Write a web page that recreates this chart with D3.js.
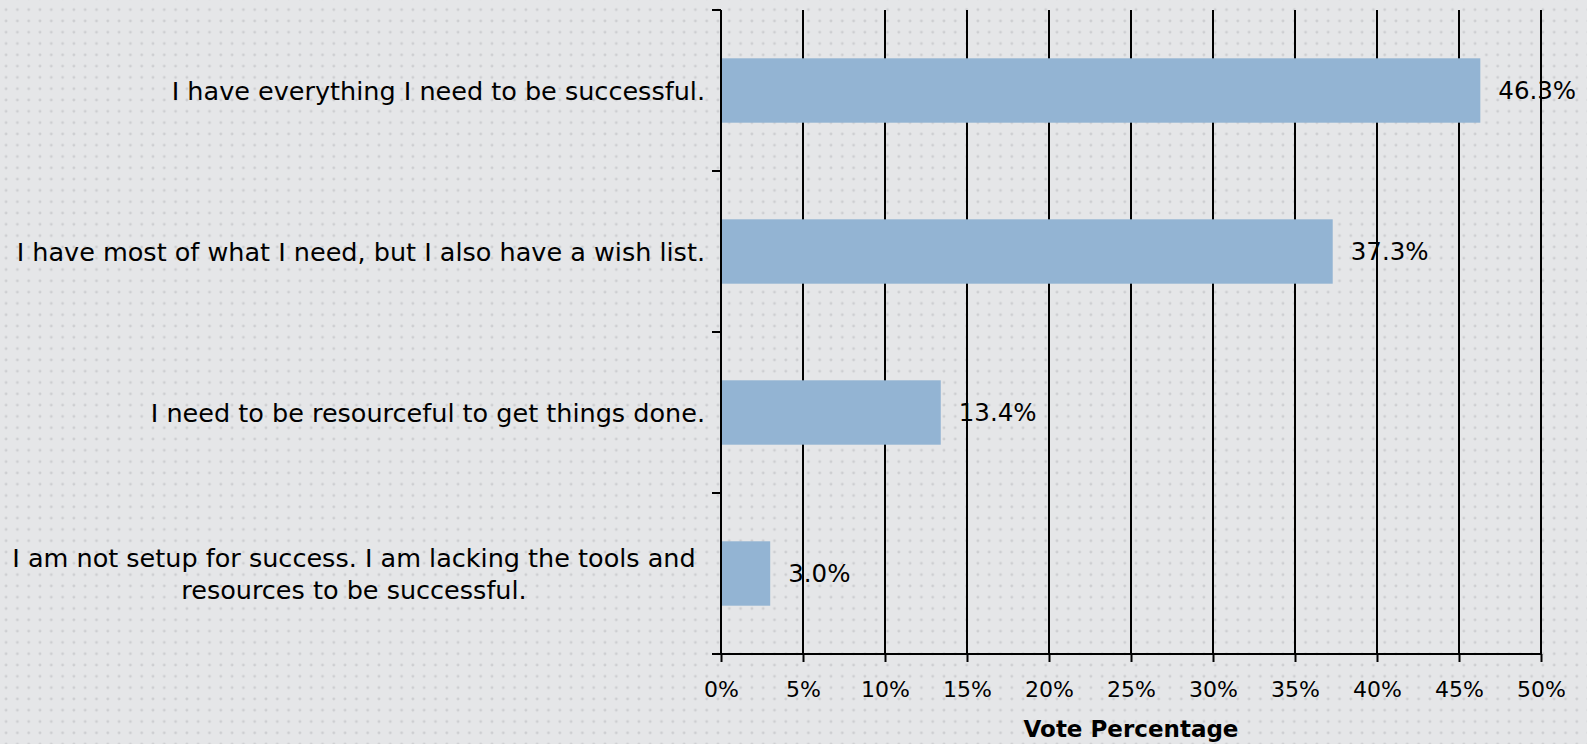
<!DOCTYPE html>
<html><head><meta charset="utf-8">
<script src="https://cdn.jsdelivr.net/npm/d3@7"></script>
<style>html,body{margin:0;padding:0;background:#e5e6e8;overflow:hidden}</style>
</head><body>
<svg id="chart" width="1587" height="744"></svg>
<script>
const categories = [
  ["I have everything I need to be successful."],
  ["I have most of what I need, but I also have a wish list."],
  ["I need to be resourceful to get things done."],
  ["I am not setup for success. I am lacking the tools and", "resources to be successful."]
];
const values = [46.3, 37.3, 13.4, 3.0];
const valueLabels = ["46.3%", "37.3%", "13.4%", "3.0%"];
const tickValues = [0, 5, 10, 15, 20, 25, 30, 35, 40, 45, 50];
const tickLabels = ["0%", "5%", "10%", "15%", "20%", "25%", "30%", "35%", "40%", "45%", "50%"];
const axisTitle = "Vote Percentage";

const W = 1587, H = 744;
const pLeft = 721, pRight = 1541, pTop = 10, pBottom = 654;
const font = "'DejaVu Sans', sans-serif";
const svg = d3.select("#chart");

// background with dot pattern
const defs = svg.append("defs");
const pat = defs.append("pattern").attr("id", "dots").attr("patternUnits", "userSpaceOnUse")
  .attr("width", 11.3).attr("height", 11.3).attr("x", 0.5).attr("y", 4);
pat.append("rect").attr("width", 11.3).attr("height", 11.3).attr("fill", "#e5e6e8");
pat.append("circle").attr("cx", 5.6).attr("cy", 5.6).attr("r", 1.4).attr("fill", "#cdced1");
svg.append("rect").attr("width", W).attr("height", H).attr("fill", "url(#dots)");

const x = d3.scaleLinear().domain([0, 50]).range([pLeft, pRight]);
const y = d3.scaleBand().domain(d3.range(categories.length)).range([pTop, pBottom])
  .paddingInner(0.6).paddingOuter(0.3);

// vertical gridlines
svg.append("g").selectAll("line").data(tickValues.filter(d => d > 0)).join("line")
  .attr("x1", d => x(d)).attr("x2", d => x(d)).attr("y1", pTop).attr("y2", pBottom)
  .attr("stroke", "#000").attr("stroke-width", 2);

// bars
svg.append("g").selectAll("rect").data(values).join("rect")
  .attr("x", x(0)).attr("y", (d, i) => y(i))
  .attr("width", d => x(d) - x(0)).attr("height", y.bandwidth())
  .attr("fill", "#93b4d3");

// y axis line + ticks at band boundaries
const yAxis = svg.append("g");
yAxis.append("line").attr("x1", pLeft).attr("x2", pLeft).attr("y1", pTop).attr("y2", pBottom)
  .attr("stroke", "#000").attr("stroke-width", 2);
const bounds = d3.range(categories.length + 1).map(i => pTop + i * y.step());
yAxis.selectAll("line.t").data(bounds).join("line").attr("class", "t")
  .attr("x1", pLeft - 9).attr("x2", pLeft).attr("y1", d => d).attr("y2", d => d)
  .attr("stroke", "#000").attr("stroke-width", 2);

// x axis
const xAxis = d3.axisBottom(x).tickValues(tickValues).tickFormat((d, i) => tickLabels[i])
  .tickSize(8).tickSizeOuter(0);
const gx = svg.append("g").attr("transform", `translate(0,${pBottom})`).call(xAxis);
gx.select(".domain").attr("d", `M${pLeft - 9},0H${pRight}`).attr("stroke", "#000").attr("stroke-width", 2);
gx.selectAll(".tick line").attr("stroke", "#000").attr("stroke-width", 2);
gx.selectAll(".tick text").attr("font-family", font).attr("font-size", 22).attr("fill", "#000")
  .attr("dy", 0).attr("y", 43);

// axis title
svg.append("text").attr("x", (pLeft + pRight) / 2).attr("y", 737).attr("text-anchor", "middle")
  .attr("font-family", font).attr("font-size", 23).attr("font-weight", "bold").attr("fill", "#000")
  .text(axisTitle);

// category labels
const labG = svg.append("g");
categories.forEach((lines, i) => {
  const cy = y(i) + y.bandwidth() / 2;
  const lh = 32;
  const t = labG.append("text").attr("font-family", font).attr("font-size", 25.5).attr("fill", "#000");
  if (lines.length === 1) {
    t.attr("text-anchor", "end").attr("x", 705).attr("y", cy).attr("dy", "0.36em").text(lines[0]);
  } else {
    t.attr("text-anchor", "middle").attr("x", 354);
    lines.forEach((ln, j) => {
      t.append("tspan").attr("x", 354).attr("y", cy + (j - (lines.length - 1) / 2) * lh)
        .attr("dy", "0.36em").text(ln);
    });
  }
});

// value labels
svg.append("g").selectAll("text").data(values).join("text")
  .attr("x", d => x(d) + 18).attr("y", (d, i) => y(i) + y.bandwidth() / 2).attr("dy", "0.36em")
  .attr("font-family", font).attr("font-size", 24.5).attr("fill", "#000")
  .text((d, i) => valueLabels[i]);
</script>
</body></html>
